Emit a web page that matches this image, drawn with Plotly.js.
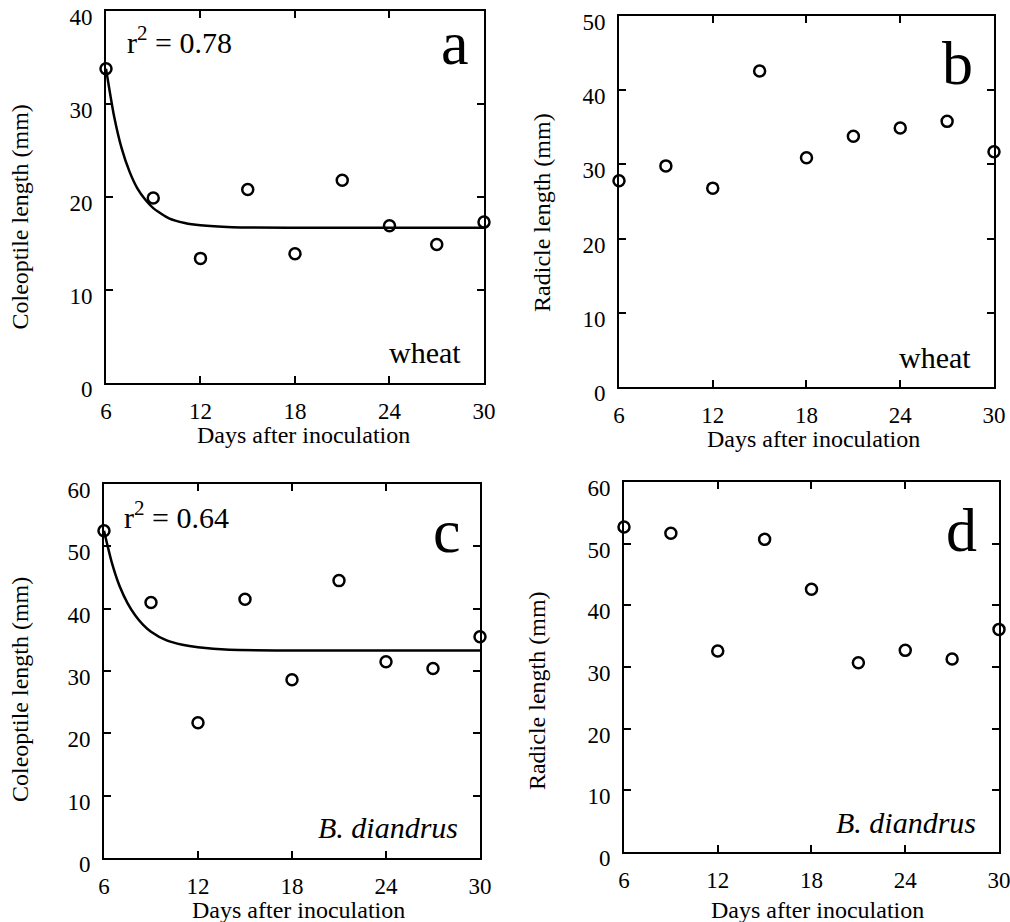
<!DOCTYPE html>
<html>
<head>
<meta charset="utf-8">
<script src="https://cdn.plot.ly/plotly-3.0.1.min.js"></script>
<style>html,body{margin:0;padding:0;background:#fff;}#chart{width:1010px;height:922px;}</style>
</head>
<body>
<div id="chart"></div>
<script>
// ---- data ----
const days = [6, 9, 12, 15, 18, 21, 24, 27, 30];
const coleoptileWheat = [33.8, 19.9, 13.4, 20.8, 13.9, 21.8, 16.9, 14.9, 17.3];
const radicleWheat = [27.8, 29.8, 26.8, 42.6, 30.9, 33.8, 34.9, 35.8, 31.7];
const coleoptileBrome = [52.5, 41.0, 21.7, 41.5, 28.6, 44.5, 31.5, 30.4, 35.5];
const radicleBrome = [52.7, 51.7, 32.6, 50.7, 42.6, 30.7, 32.7, 31.3, 36.1];

// fitted curves
const fitDays = [6, 6.5, 7, 7.5, 8, 8.5, 9, 10, 11, 12, 14, 18, 24, 30];
const fitWheat = [33.8, 28.8, 25.2, 22.7, 20.9, 19.7, 18.8, 17.7, 17.2, 16.95, 16.75, 16.7, 16.7, 16.7];
const fitBrome = [52.5, 47.4, 43.6, 40.9, 38.9, 37.4, 36.3, 34.9, 34.2, 33.8, 33.4, 33.3, 33.3, 33.3];

const xTicks = [6, 12, 18, 24, 30];
const xTitle = 'Days after inoculation';
const yTitles = ['Coleoptile length (mm)', 'Radicle length (mm)', 'Coleoptile length (mm)', 'Radicle length (mm)'];
const panelLetters = ['a', 'b', 'c', 'd'];
const r2Labels = ['r<sup>2</sup> = 0.78', 'r<sup>2</sup> = 0.64'];
const speciesLabels = ['wheat', 'wheat', '<i>B. diandrus</i>', '<i>B. diandrus</i>'];
const yMax = [40, 50, 60, 60];

// ---- styling ----
const FONT = '"Liberation Serif", "Times New Roman", serif';
const marker = {symbol: 'circle-open', size: 11, color: 'black', line: {width: 2.5, color: 'black'}};
const fitLine = {color: 'black', width: 2.5, shape: 'spline', smoothing: 0.6};

function pts(xa, ya, y) {
  return {x: days, y: y, xaxis: xa, yaxis: ya, mode: 'markers', type: 'scatter',
          marker: marker, cliponaxis: false, hoverinfo: 'x+y'};
}
function fit(xa, ya, y) {
  return {x: fitDays, y: y, xaxis: xa, yaxis: ya, mode: 'lines', type: 'scatter',
          line: fitLine, cliponaxis: false, hoverinfo: 'skip'};
}

const data = [
  fit('x', 'y', fitWheat), pts('x', 'y', coleoptileWheat),
  pts('x2', 'y2', radicleWheat),
  fit('x3', 'y3', fitBrome), pts('x3', 'y3', coleoptileBrome),
  pts('x4', 'y4', radicleBrome)
];

function xax(domain, anchor) {
  return {domain: domain, anchor: anchor, range: [6, 30], tickvals: xTicks,
          ticks: 'inside', ticklen: 7, tickwidth: 2, tickcolor: 'black',
          showline: true, linecolor: 'black', linewidth: 2, mirror: 'ticks',
          showgrid: false, zeroline: false, fixedrange: true,
          ticklabelstandoff: 6, ticklabeloverflow: 'allow',
          tickfont: {family: FONT, size: 23, color: 'black'}};
}
function yax(domain, anchor, max) {
  return {domain: domain, anchor: anchor, range: [0, max], tick0: 0, dtick: 10,
          ticks: 'inside', ticklen: 7, tickwidth: 2, tickcolor: 'black',
          showline: true, linecolor: 'black', linewidth: 2, mirror: 'ticks',
          showgrid: false, zeroline: false, fixedrange: true,
          ticklabelstandoff: 7, ticklabelshift: 6, ticklabeloverflow: 'allow',
          tickfont: {family: FONT, size: 23, color: 'black'}};
}

const axisIds = [['x', 'y'], ['x2', 'y2'], ['x3', 'y3'], ['x4', 'y4']];
const annotations = [];
// panel letters
const letterPos = [[0.923, 0.914], [0.903, 0.8725], [0.912, 0.874], [0.901, 0.870]];
axisIds.forEach((ids, i) => {
  annotations.push({xref: ids[0] + ' domain', yref: ids[1] + ' domain', x: letterPos[i][0], y: letterPos[i][1],
    text: panelLetters[i], showarrow: false, xanchor: 'center', yanchor: 'middle',
    font: {family: FONT, size: 62, color: 'black'}});
});
// species labels
const speciesPos = [[0.944, 0.082], [0.944, 0.0795], [0.947, 0.0815], [0.944, 0.080]];
axisIds.forEach((ids, i) => {
  annotations.push({xref: ids[0] + ' domain', yref: ids[1] + ' domain', x: speciesPos[i][0], y: speciesPos[i][1],
    text: speciesLabels[i], showarrow: false, xanchor: 'right', yanchor: 'middle',
    font: {family: FONT, size: 30, color: 'black'}});
});
// r2 labels
annotations.push({xref: 'x domain', yref: 'y domain', x: 0.05, y: 0.923, text: r2Labels[0],
  showarrow: false, xanchor: 'left', yanchor: 'middle', font: {family: FONT, size: 30, color: 'black'}});
annotations.push({xref: 'x3 domain', yref: 'y3 domain', x: 0.048, y: 0.918, text: r2Labels[1],
  showarrow: false, xanchor: 'left', yanchor: 'middle', font: {family: FONT, size: 30, color: 'black'}});
// axis titles
const xTitlePos = [[0.300, 0.5282], [0.805, 0.5238], [0.296, 0.0130], [0.809, 0.0130]];
const yTitlePos = [[0.0198, 0.7652], [0.5366, 0.7701], [0.0198, 0.2527], [0.5317, 0.2505]];
for (let i = 0; i < 4; i++) {
  annotations.push({xref: 'paper', yref: 'paper', x: xTitlePos[i][0], y: xTitlePos[i][1], text: xTitle,
    showarrow: false, xanchor: 'center', yanchor: 'middle', font: {family: FONT, size: 24, color: 'black'}});
  annotations.push({xref: 'paper', yref: 'paper', x: yTitlePos[i][0], y: yTitlePos[i][1], text: yTitles[i],
    textangle: -90, showarrow: false, xanchor: 'center', yanchor: 'middle', font: {family: FONT, size: 24, color: 'black'}});
}

const layout = {
  width: 1010, height: 922,
  margin: {l: 0, r: 0, t: 0, b: 0},
  paper_bgcolor: 'white', plot_bgcolor: 'white',
  showlegend: false,
  font: {family: FONT, color: 'black'},
  xaxis: xax([0.10495, 0.47921], 'y'),
  yaxis: yax([0.58460, 0.98807], 'x', yMax[0]),
  xaxis2: xax([0.61287, 0.98416], 'y2'),
  yaxis2: yax([0.58026, 0.98265], 'x2', yMax[1]),
  xaxis3: xax([0.10297, 0.47525], 'y3'),
  yaxis3: yax([0.06941, 0.47505], 'x3', yMax[2]),
  xaxis4: xax([0.61782, 0.98911], 'y4'),
  yaxis4: yax([0.07592, 0.47722], 'x4', yMax[3]),
  annotations: annotations
};

Plotly.newPlot('chart', data, layout, {displayModeBar: false, staticPlot: true});
</script>
</body>
</html>
